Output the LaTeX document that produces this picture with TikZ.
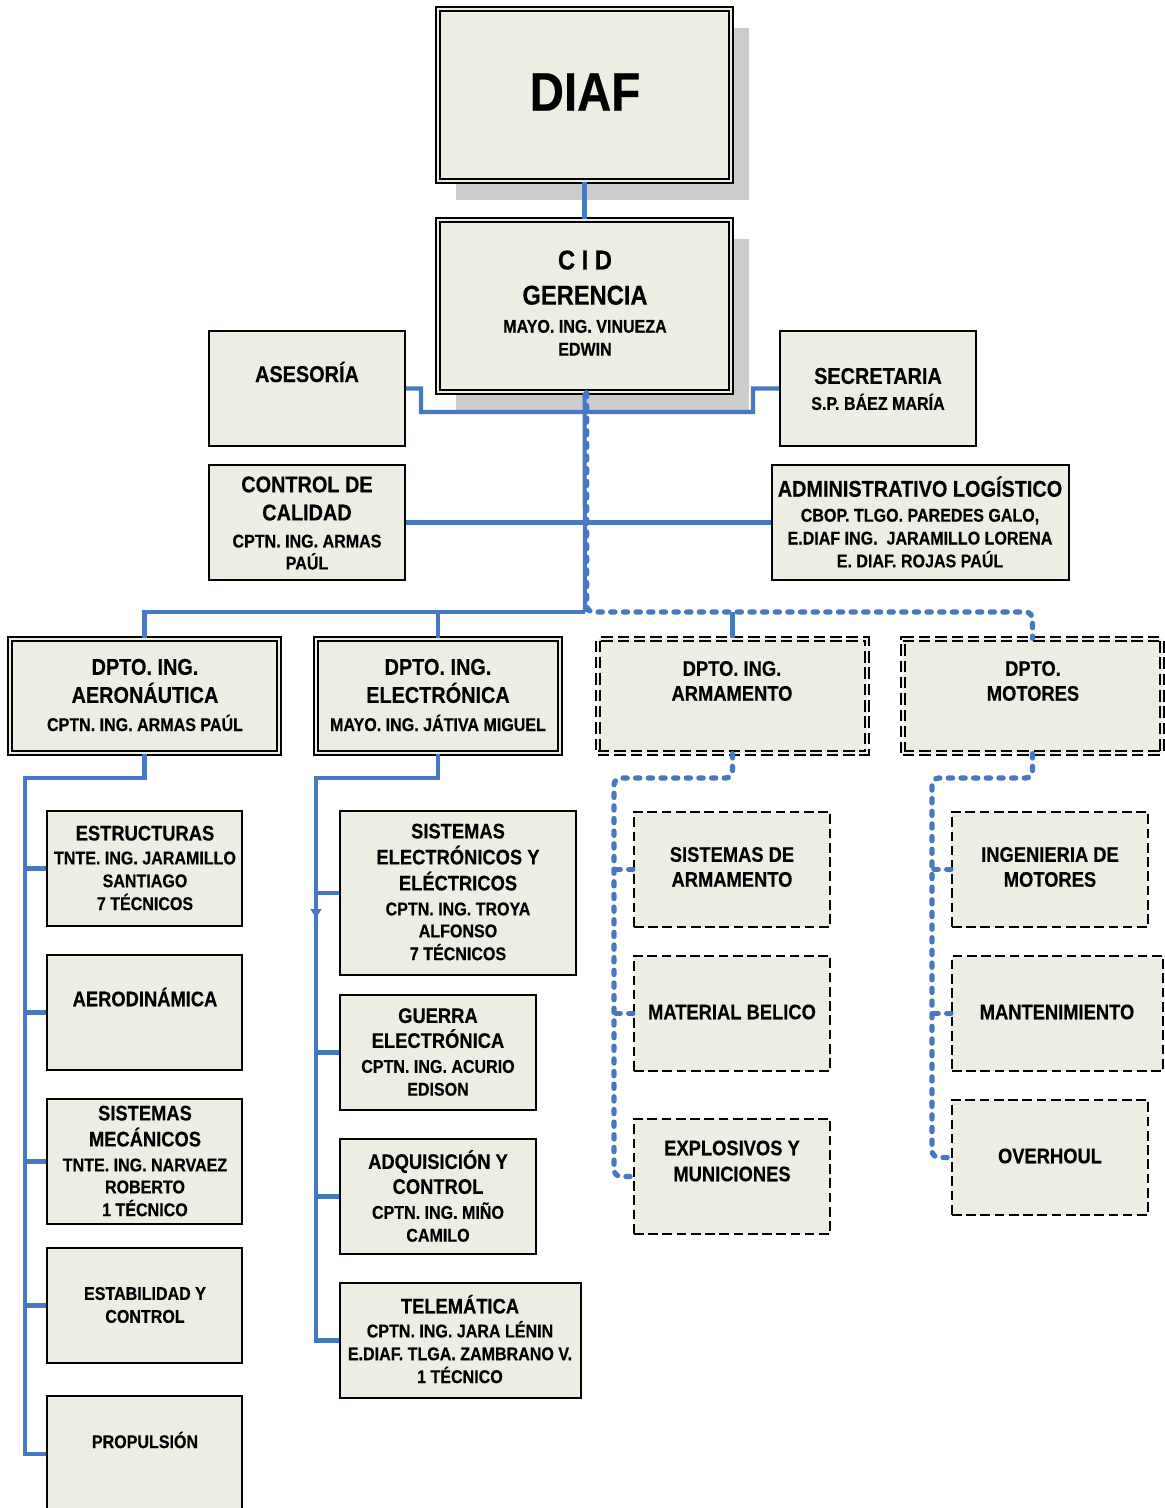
\documentclass[tikz,border=0pt]{standalone}
\usepackage{fontspec}
\setmainfont{Liberation Sans}[FakeStretch=0.87, BoldFeatures={FakeBold=0.4}]
\usetikzlibrary{fit}
\usetikzlibrary{shadows}
\usetikzlibrary{arrows.meta}
\definecolor{boxfill}{RGB}{237,237,228}
\definecolor{linkblue}{RGB}{72,120,194}
\definecolor{shadowgray}{RGB}{204,204,204}
\newcommand{\szG}{\fontsize{15.5}{18}\selectfont}
\newcommand{\szH}{\fontsize{13}{15}\selectfont}
\newcommand{\szM}{\fontsize{12}{14}\selectfont}
\newcommand{\szS}{\fontsize{10.5}{13}\selectfont}

\begin{document}
\begin{tikzpicture}[x=0.02cm, y=-0.02cm,
	box/.style={draw=black, line width=0.9pt, fill=boxfill, inner sep=0pt},
	dbox/.style={box, double=boxfill, line width=0.8pt, double distance=1.4pt},
	ddash/.style={dbox, dash pattern=on 6.5pt off 2.8pt},
	dashbox/.style={box, line width=1.3pt, dash pattern=on 5.5pt off 2.6pt},
	topshadow/.style={drop shadow={shadow xshift=0.35cm, shadow yshift=-0.38cm, fill=shadowgray, opacity=1}},
	lbl/.style={align=center, inner sep=0pt, font=\szS\bfseries},
	link/.style={draw=linkblue, line width=2.3pt},
	dotlink/.style={draw=linkblue, line width=3pt, line cap=round, dash pattern=on 2.4pt off 4.8pt, rounded corners=4pt}]
		\useasboundingbox (0,0) rectangle (1165,1508);
		\clip (0,0) rectangle (1165,1508);
		% direccion
		\node[dbox, topshadow, fit={(438,9) (731,181)}] (diaf) {};
		\node[lbl, font=\fontsize{31}{35}\selectfont\bfseries] (diaf-t) at (585,92) {DIAF};
		\node[dbox, topshadow, fit={(438,220) (731,392)}] (cid) {};
		\node[lbl] (cid-t) at (585,303) {{\szG C I D}\\[7pt]{\szG GERENCIA}\\[3pt]MAYO. ING. VINUEZA\\EDWIN};
		\node[box, fit={(209,331) (405,446)}] (ases) {};
		\node[lbl] (ases-t) at (307,372) {\szH ASESORÍA};
		\node[box, fit={(780,331) (976,446)}] (secr) {};
		\node[lbl] (secr-t) at (878,389) {{\szH SECRETARIA}\\[1.8pt]S.P. BÁEZ MARÍA};
		\node[box, fit={(209,465) (405,580)}] (ctrl) {};
		\node[lbl] (ctrl-t) at (307,523) {{\szH CONTROL DE}\\[3pt]{\szH CALIDAD}\\[2.4pt]CPTN. ING. ARMAS\\[-0.5pt]PAÚL};
		\node[box, fit={(772,465) (1069,580)}] (admin) {};
		\node[lbl] (admin-t) at (920,522) {{\szH ADMINISTRATIVO LOGÍSTICO}\\[1.2pt]CBOP. TLGO. PAREDES GALO,\\E.DIAF ING.\ \ JARAMILLO LORENA\\E. DIAF. ROJAS PAÚL};
		% departamentos
		\node[dbox, fit={(10,639) (279,753)}] (aero) {};
		\node[lbl] (aero-t) at (145,695) {{\szH DPTO. ING.}\\[3pt]{\szH AERONÁUTICA}\\[3pt]CPTN. ING. ARMAS PAÚL};
		\node[dbox, fit={(316,639) (560,753)}] (elec) {};
		\node[lbl] (elec-t) at (438,695) {{\szH DPTO. ING.}\\[3pt]{\szH ELECTRÓNICA}\\[3pt]MAYO. ING. JÁTIVA MIGUEL};
		\node[ddash, fit={(598,639) (867,753)}] (arma) {};
		\node[lbl] (arma-t) at (732,681) {{\szM DPTO. ING.}\\[1.2pt]{\szM ARMAMENTO}};
		\node[ddash, fit={(903,639) (1162,753)}] (moto) {};
		\node[lbl] (moto-t) at (1033,681) {{\szM DPTO.}\\[1.2pt]{\szM MOTORES}};
		% aeronautica
		\node[box, fit={(47,811) (242,926)}] (estr) {};
		\node[lbl] (estr-t) at (145,868) {{\szM ESTRUCTURAS}\\[0.6pt]TNTE. ING. JARAMILLO\\SANTIAGO\\7 TÉCNICOS};
		\node[box, fit={(47,955) (242,1070)}] (aerod) {};
		\node[lbl] (aerod-t) at (145,997) {\szM AERODINÁMICA};
		\node[box, fit={(47,1099) (242,1224)}] (sismec) {};
		\node[lbl] (sismec-t) at (145,1161) {{\szM SISTEMAS}\\[1.8pt]{\szM MECÁNICOS}\\[1.2pt]TNTE. ING. NARVAEZ\\[-0.5pt]ROBERTO\\1 TÉCNICO};
		\node[box, fit={(47,1248) (242,1363)}] (estab) {};
		\node[lbl] (estab-t) at (145,1305) {ESTABILIDAD Y\\CONTROL};
		\node[box, fit={(47,1396) (242,1512)}] (prop) {};
		\node[lbl] (prop-t) at (145,1440) {PROPULSIÓN};
		% electronica
		\node[box, fit={(340,811) (576,975)}] (siselec) {};
		\node[lbl] (siselec-t) at (458,892) {{\szM SISTEMAS}\\[1.8pt]{\szM ELECTRÓNICOS Y}\\[1.8pt]{\szM ELÉCTRICOS}\\[1.2pt]CPTN. ING. TROYA\\[-0.5pt]ALFONSO\\7 TÉCNICOS};
		\node[box, fit={(340,995) (536,1110)}] (guerra) {};
		\node[lbl] (guerra-t) at (438,1052) {{\szM GUERRA}\\[1.2pt]{\szM ELECTRÓNICA}\\[1.2pt]CPTN. ING. ACURIO\\EDISON};
		\node[box, fit={(340,1139) (536,1254)}] (adq) {};
		\node[lbl] (adq-t) at (438,1196) {{\szM ADQUISICIÓN Y}\\[1.2pt]{\szM CONTROL}\\[1.2pt]CPTN. ING. MIÑO\\CAMILO};
		\node[box, fit={(340,1283) (581,1398)}] (telem) {};
		\node[lbl] (telem-t) at (460,1339) {{\szM TELEMÁTICA}\\[0.6pt]CPTN. ING. JARA LÉNIN\\E.DIAF. TLGA. ZAMBRANO V.\\1 TÉCNICO};
		% armamento
		\node[dashbox, fit={(634,812) (830,927)}] (sisarm) {};
		\node[lbl] (sisarm-t) at (732,867) {{\szM SISTEMAS DE}\\[1.2pt]{\szM ARMAMENTO}};
		\node[dashbox, fit={(634,956) (830,1071)}] (matbel) {};
		\node[lbl] (matbel-t) at (732,1012) {\szM MATERIAL BELICO};
		\node[dashbox, fit={(634,1119) (830,1234)}] (explo) {};
		\node[lbl] (explo-t) at (732,1161) {{\szM EXPLOSIVOS Y}\\[1.8pt]{\szM MUNICIONES}};
		% motores
		\node[dashbox, fit={(952,812) (1148,927)}] (ingmot) {};
		\node[lbl] (ingmot-t) at (1050,867) {{\szM INGENIERIA DE}\\[1.2pt]{\szM MOTORES}};
		\node[dashbox, fit={(952,956) (1163,1071)}] (mant) {};
		\node[lbl] (mant-t) at (1057,1012) {\szM MANTENIMIENTO};
		\node[dashbox, fit={(952,1100) (1148,1215)}] (over) {};
		\node[lbl] (over-t) at (1050,1156) {\szM OVERHOUL};
		% lineas
		\coordinate (hub) at (585,612);
		\draw[link] (diaf.south) -- (cid.north);
		\draw[link] (ases.east) -| (421,412) -| (753,388.5) -- (secr.west);
		\draw[link] (ctrl.east) -- (admin.west);
		\draw[link] (cid.south) -- (hub);
		\draw[link] (aero.north) |- (hub);
		\draw[link] (elec.north) -- (elec.north |- hub);
		\draw[dotlink] ([xshift=1.2pt]cid.south) |- (moto.north |- hub) -- (moto.north);
		\draw[link] (arma.north) -- (arma.north |- hub);
		\coordinate (aspine) at (25,778);
		\draw[link] (aero.south) |- (aspine) |- (prop.west);
		\foreach \n in {estr,aerod,sismec,estab}
			\draw[link] (\n.west) -- (\n.west -| aspine);
		\coordinate (espine) at (316,778);
		\draw[link] (elec.south) |- (espine) |- (telem.west);
		\foreach \n in {siselec,guerra,adq}
			\draw[link] (\n.west) -- (\n.west -| espine);
		\draw[link, -{Triangle[length=5pt,width=6pt]}] (316,893) -- (316,918);
		\coordinate (rspine) at (614,778);
		\draw[dotlink] (arma.south) |- (rspine) |- (explo.west);
		\foreach \n in {sisarm,matbel}
			\draw[dotlink] (\n.west) -- (\n.west -| rspine);
		\coordinate (mspine) at (932,778);
		\draw[dotlink] (moto.south) |- (mspine) |- (over.west);
		\foreach \n in {ingmot,mant}
			\draw[dotlink] (\n.west) -- (\n.west -| mspine);
	\end{tikzpicture}
\end{document}
